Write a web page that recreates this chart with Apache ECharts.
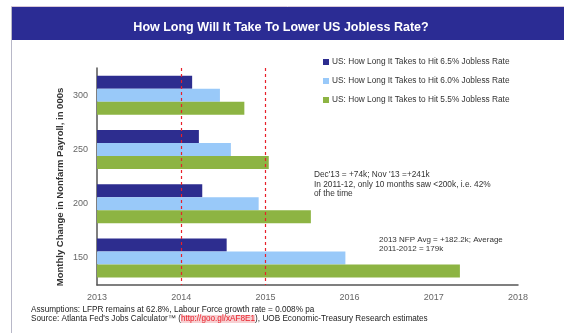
<!DOCTYPE html>
<html>
<head>
<meta charset="utf-8">
<script src="https://cdn.jsdelivr.net/npm/echarts@6/dist/echarts.min.js"></script>
<style>
  html, body { margin: 0; padding: 0; background: #ffffff; }
  #chart { width: 564px; height: 333px; }
</style>
</head>
<body>
<div id="chart"></div>
<script>
// Monthly payroll gains (000s), top to bottom
var categories = ['300', '250', '200', '150'];

// Year in which each jobless-rate threshold is reached (decimal years)
var hit65 = [2014.13, 2014.21, 2014.25, 2014.54];
var hit60 = [2014.46, 2014.59, 2014.92, 2015.95];
var hit55 = [2014.75, 2015.04, 2015.54, 2017.31];

var seriesNames = [
  'US: How Long It Takes to Hit 6.5% Jobless Rate',
  'US: How Long It Takes to Hit 6.0% Jobless Rate',
  'US: How Long It Takes to Hit 5.5% Jobless Rate'
];

var yearTicks = [2013, 2014, 2015, 2016, 2017, 2018];
var markerYears = [2014, 2015];

var chart = echarts.init(document.getElementById('chart'), null, { renderer: 'canvas' });
var FONT = '"Liberation Sans", Arial, sans-serif';
var RED = '#e8202a';
var redLine = { color: RED, type: [3, 3], width: 1.2, opacity: 1 };

var option = {
  backgroundColor: '#ffffff',
  animation: false,
  textStyle: { fontFamily: FONT },
  title: {
    text: 'How Long Will It Take To Lower US Jobless Rate?',
    left: 276,
    top: 16,
    textAlign: 'center',
    textStyle: { color: '#ffffff', fontSize: 12.5, fontWeight: 'bold', fontFamily: FONT }
  },
  legend: {
    orient: 'vertical',
    left: 318,
    top: 53,
    itemGap: 11,
    itemWidth: 6,
    itemHeight: 6,
    icon: 'rect',
    data: seriesNames,
    textStyle: { fontSize: 8.3, color: '#333333', fontFamily: FONT, padding: [0, 0, 0, -2] }
  },
  grid: { left: 97, right: 46, top: 68, bottom: 48 },
  xAxis: {
    type: 'value',
    min: 2013,
    max: 2018,
    interval: 1,
    splitLine: { show: false },
    axisLine: { show: true, lineStyle: { color: '#555555', width: 1.5 } },
    axisTick: { show: false },
    axisLabel: {
      color: '#666666', fontSize: 9, margin: 8,
      formatter: function (v) { return yearTicks.indexOf(v) >= 0 ? String(v) : ''; }
    }
  },
  yAxis: {
    type: 'category',
    inverse: true,
    data: categories,
    axisLine: { show: true, lineStyle: { color: '#555555', width: 1.5 } },
    axisTick: { show: false },
    axisLabel: { color: '#666666', fontSize: 9, margin: 9 }
  },
  series: [
    {
      name: seriesNames[0],
      type: 'bar',
      data: hit65,
      barWidth: 13,
      barGap: '0%',
      itemStyle: { color: '#2d2d8f' }
    },
    {
      name: seriesNames[1],
      type: 'bar',
      data: hit60,
      barWidth: 13,
      barGap: '0%',
      itemStyle: { color: '#99c9f9' }
    },
    {
      name: seriesNames[2],
      type: 'bar',
      data: hit55,
      barWidth: 13,
      barGap: '0%',
      itemStyle: { color: '#8db443' },
      markLine: {
        symbol: ['none', 'none'],
        silent: true,
        z: 10,
        label: { show: false },
        itemStyle: { color: RED },
        lineStyle: redLine,
        emphasis: { disabled: true, lineStyle: redLine },
        data: markerYears.map(function (y) {
          return { xAxis: y, itemStyle: { color: RED }, lineStyle: redLine };
        })
      }
    }
  ],
  graphic: [
    // title band
    { type: 'rect', z: -1, shape: { x: 11, y: 7, width: 553, height: 33 },
      style: { fill: '#2b2c94' } },
    // outer frame edge
    { type: 'line', shape: { x1: 11.5, y1: 7, x2: 11.5, y2: 333 },
      style: { stroke: '#b8b8c8', lineWidth: 1 } },
    { type: 'line', shape: { x1: 11, y1: 6.5, x2: 564, y2: 6.5 },
      style: { stroke: '#d8c8d8', lineWidth: 1 } },
    // y-axis title
    { type: 'text', x: 60, y: 187, rotation: Math.PI / 2,
      style: { text: 'Monthly Change in Nonfarm Payroll, in 000s', fontSize: 9.5, fontWeight: 'bold',
        fill: '#333333', fontFamily: FONT, align: 'center', verticalAlign: 'middle' } },
    // annotations
    { type: 'text', left: 314, top: 170,
      style: { text: "Dec'13 = +74k; Nov '13 =+241k\nIn 2011-12, only 10 months saw <200k, i.e. 42%\nof the time",
        fontSize: 8.3, lineHeight: 9.5, fill: '#333333', fontFamily: FONT } },
    { type: 'text', left: 379, top: 235,
      style: { text: '2013 NFP Avg = +182.2k; Average\n2011-2012 = 179k',
        fontSize: 8, lineHeight: 9.5, fill: '#333333', fontFamily: FONT } },
    // footnotes
    { type: 'text', left: 31, top: 306,
      style: { text: 'Assumptions: LFPR remains at 62.8%, Labour Force growth rate = 0.008% pa',
        fontSize: 8.2, fill: '#222222', fontFamily: FONT } },
    { type: 'text', left: 31, top: 315,
      style: {
        text: "{a|Source: Atlanta Fed's Jobs Calculator™ (}{b|http://goo.gl/xAF8E1}{a|), UOB Economic-Treasury Research estimates}",
        fontSize: 8.2, fontFamily: FONT,
        rich: {
          a: { fontSize: 8.2, fill: '#222222', fontFamily: FONT },
          b: { fontSize: 8.2, fill: RED, fontFamily: FONT, backgroundColor: '#f7d0d2' }
        }
      } }
  ]
};

chart.setOption(option);
</script>
</body>
</html>
